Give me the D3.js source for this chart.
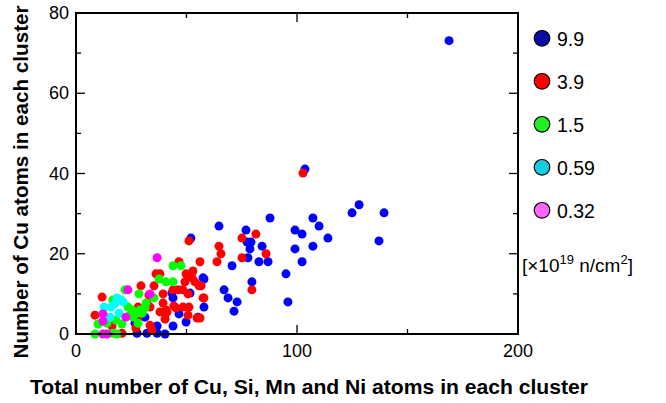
<!DOCTYPE html>
<html><head><meta charset="utf-8">
<script src="https://cdn.jsdelivr.net/npm/d3@7"></script>
<style>body{margin:0;background:#fff}svg{display:block}text{font-family:"Liberation Sans",Arial,sans-serif}</style>
</head><body><svg id="c" width="666" height="403"></svg>
<script>
const fluences = ["9.9","3.9","1.5","0.59","0.32"];
const xTicks = [0,100,200];
const yTicks = [0,20,40,60,80];
// [total atoms, Cu atoms]
const s99 = [[168.8,73.1],[103.6,41.1],[128.1,32.2],[124.9,30.2],[139.4,30.2],[107.2,28.9],[110,26.9],[102.3,24.9],[114,23.9],[107.2,21.9],[137.1,23.2],[102.3,18],[64.7,26.9],[87.8,28.9],[76.9,25.9],[77.4,22.9],[79.2,22.9],[78.7,21.2],[77.8,19],[84.2,21.9],[82.8,18],[86.9,18],[70.6,17],[99.1,25.9],[99.1,21.2],[95,15],[95.9,8],[79.6,13],[67,11],[68.8,9],[72.9,8],[71.5,5.7],[57.9,13.7],[57.9,6.7],[51.6,10.2],[43.4,10.2],[43.9,9],[55.2,4.2],[46.6,5],[49.8,3],[43.9,2],[40.3,0],[36.7,2],[32.1,0.2],[27.6,0.2],[36.7,0.2],[26.7,2.7],[31.2,4.2],[52,23.9],[57.5,14]];
const s39 = [[102.7,40.1],[81.4,24.9],[75.1,23.9],[64.7,21.9],[65.6,20],[63.8,18],[75.1,19],[86,20],[79.6,11],[56.6,12],[57.9,9],[56.1,4],[56.1,18],[51.1,23.2],[46.6,18],[52.9,15.7],[52.5,14],[49.8,15],[36.2,15],[38,15],[49.3,13],[53.8,13],[55.7,12],[35.3,12],[29.4,12],[48.4,11],[43.9,11],[46.2,11],[39.4,10],[33,9.7],[50.7,10],[57.5,9],[39.4,7.7],[44.3,7],[48.4,6.7],[51.1,6.7],[38,5.5],[41.2,5.5],[50.7,4.7],[54.8,4],[34.4,1],[27.1,1.5],[11.8,9.2],[8.6,4.7],[40.3,3.7],[33.5,2.2],[28.1,6.7],[40.7,6],[45.2,6.5],[20.8,0.2],[32.1,7.7],[33.5,6.7],[28.1,4.2],[16.3,2],[40.7,5.2]];
const s15 = [[43.9,17],[47.5,17],[37.6,13.7],[40.7,13],[43.9,13],[22.2,11],[28.5,10],[35.3,9],[31.7,7.7],[31.2,6.5],[23.5,6.7],[24.4,4.7],[27.6,5.2],[18.1,3.5],[14,2.7],[20.8,2.5],[8.6,0],[18.6,0],[16.7,0.2],[10,2.5],[16.7,8.5],[29,6],[29.9,5.2],[25.8,4.2],[28.1,2.7],[25.3,6]];
const s059 = [[18.6,9],[21.3,8],[12.7,6.7],[15.8,6.7],[19.5,5.2],[15.4,4.2],[20.4,8.5],[17.5,7.5]];
const s032 = [[36.7,19],[23.5,11],[33.5,10],[12.2,5],[12.2,3.2],[22.6,4.2],[12.2,0],[14,0]];

const series = [s99,s39,s15,s059,s032];
const dotColors = ["#0000ff","#ff0000","#00ff00","#00ffff","#ff00ff"];
const legColors = ["#0c0ca8","#ff0000","#22ee22","#18cce0","#ff66ff"];

const svg = d3.select("#c");
const L=76,R=518,T=13,B=334;
const x = d3.scaleLinear().domain([0,200]).range([L,R]);
const y = d3.scaleLinear().domain([0,80]).range([B,T]);

// points
series.forEach((s,i)=>{
  svg.append("g").selectAll("circle").data(s).join("circle")
    .attr("cx",d=>x(d[0])).attr("cy",d=>y(d[1])).attr("r",4.5)
    .attr("fill",dotColors[i]);
});

// frame
svg.append("rect").attr("x",L).attr("y",T).attr("width",R-L).attr("height",B-T)
  .attr("fill","none").attr("stroke","#000").attr("stroke-width",2);

const tk = svg.append("g").attr("stroke","#000").attr("stroke-width",1.3);
d3.range(0,81,10).forEach(v=>{
  const len = v%20===0?9:5;
  tk.append("line").attr("x1",L).attr("x2",L+len).attr("y1",y(v)).attr("y2",y(v));
  tk.append("line").attr("x1",R).attr("x2",R-len).attr("y1",y(v)).attr("y2",y(v));
});
d3.range(0,201,50).forEach(v=>{
  const len = v%100===0?9:5;
  tk.append("line").attr("x1",x(v)).attr("x2",x(v)).attr("y1",B).attr("y2",B-len);
  tk.append("line").attr("x1",x(v)).attr("x2",x(v)).attr("y1",T).attr("y2",T+len);
});

// tick labels
svg.append("g").selectAll("text").data(yTicks).join("text")
  .attr("x",L-7).attr("y",d=>y(d)+6).attr("text-anchor","end")
  .attr("font-size",18).text(d=>d);
svg.append("g").selectAll("text").data(xTicks).join("text")
  .attr("x",d=>x(d)).attr("y",B+23).attr("text-anchor","middle")
  .attr("font-size",18).text(d=>d);

// titles
svg.append("text").attr("x",309).attr("y",394).attr("text-anchor","middle")
  .attr("font-size",20).attr("font-weight","bold")
  .attr("textLength",558).attr("lengthAdjust","spacingAndGlyphs")
  .text("Total number of Cu, Si, Mn and Ni atoms in each cluster");
svg.append("text").attr("transform","translate(28,182) rotate(-90)").attr("text-anchor","middle")
  .attr("font-size",20).attr("font-weight","bold")
  .attr("textLength",353).attr("lengthAdjust","spacingAndGlyphs")
  .text("Number of Cu atoms in each cluster");

// legend
const lg = svg.append("g");
fluences.forEach((f,i)=>{
  const cy = 38.3 + i*43;
  lg.append("circle").attr("cx",542).attr("cy",cy).attr("r",7.8)
    .attr("fill",legColors[i]).attr("stroke","#000").attr("stroke-width",1.2);
  lg.append("text").attr("x",557).attr("y",cy+7.5).attr("font-size",19.5).text(f);
});
const ut = lg.append("text").attr("x",522).attr("y",272).attr("font-size",19);
ut.append("tspan").text("[×10");
ut.append("tspan").attr("dy",-8).attr("font-size",13).text("19");
ut.append("tspan").attr("dy",8).text(" n/cm");
ut.append("tspan").attr("dy",-8).attr("font-size",13).text("2");
ut.append("tspan").attr("dy",8).text("]");
</script></body></html>
